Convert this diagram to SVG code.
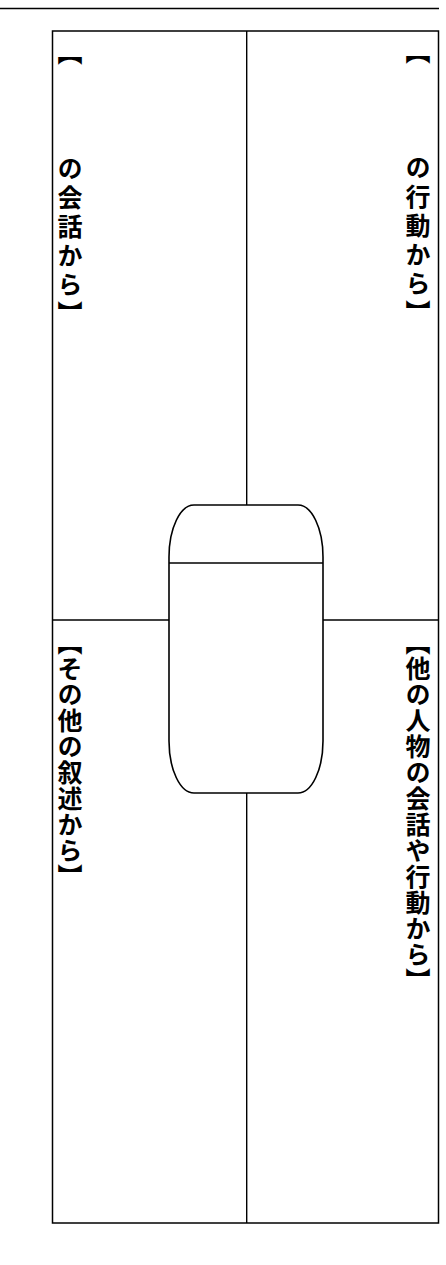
<svg xmlns="http://www.w3.org/2000/svg" width="446" height="1265" viewBox="0 0 446 1265">
<style>
.ln{stroke:#000;stroke-width:1.4;fill:none}
.lbl{font-family:"Noto Sans CJK JP","Noto Sans CJK SC",sans-serif;font-weight:bold;font-size:25px;writing-mode:vertical-rl;letter-spacing:1px;fill:#000}
.top{letter-spacing:4px}
</style>
<rect width="446" height="1265" fill="#fff"/>
<g id="connectors">
<line class="ln" x1="0" y1="8.5" x2="439" y2="8.5"/>
<line class="ln" x1="246.7" y1="31" x2="246.7" y2="505"/>
<line class="ln" x1="246.7" y1="793" x2="246.7" y2="1223"/>
<line class="ln" x1="52.5" y1="620" x2="169" y2="620"/>
<line class="ln" x1="323" y1="620" x2="438.5" y2="620"/>
</g>
<g id="frame">
<rect class="ln" x="52.5" y="31" width="386" height="1192" style="stroke-width:1.5"/>
</g>
<g id="center">
<rect class="ln" x="169" y="505" width="154" height="288" rx="25" ry="52" style="stroke-width:1.6"/>
<line class="ln" x1="169" y1="563" x2="323" y2="563"/>
</g>
<g id="q-top-right"><text class="lbl top" x="418" y="39">【　　　の行動から】</text></g>
<g id="q-top-left"><text class="lbl top" x="70" y="40">【　　　の会話から】</text></g>
<g id="q-bottom-left"><text class="lbl" x="70" y="630">【その他の叙述から】</text></g>
<g id="q-bottom-right"><text class="lbl" x="418" y="630">【他の人物の会話や行動から】</text></g>
</svg>
